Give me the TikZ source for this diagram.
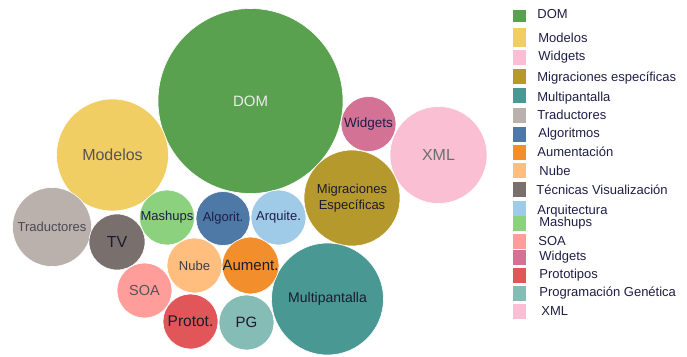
\documentclass[tikz,border=0pt]{standalone}
\usepackage{fontspec}
\setmainfont{Liberation Sans}
\usepackage{tikz}
\usetikzlibrary{positioning}

\definecolor{cdom}{HTML}{59A14F}
\definecolor{cmod}{HTML}{F1CE63}
\definecolor{cwpink}{HTML}{FABFD2}
\definecolor{cmig}{HTML}{B6992D}
\definecolor{cmulti}{HTML}{499894}
\definecolor{ctrad}{HTML}{BAB0AC}
\definecolor{calg}{HTML}{4E79A7}
\definecolor{caum}{HTML}{F28E2B}
\definecolor{cnube}{HTML}{FFBE7D}
\definecolor{ctv}{HTML}{79706E}
\definecolor{carq}{HTML}{A0CBE8}
\definecolor{cmash}{HTML}{8CD17D}
\definecolor{csoa}{HTML}{FF9D9A}
\definecolor{cwid}{HTML}{D37295}
\definecolor{cprot}{HTML}{E15759}
\definecolor{cpg}{HTML}{86BCB6}
\definecolor{cxml}{HTML}{FABFD2}
\definecolor{legtext}{HTML}{1E1E46}
\definecolor{darklab}{HTML}{1C1C2C}
\definecolor{greylab}{HTML}{555555}

\tikzset{
  bub/.style={circle, inner sep=0pt, draw=white, line width=0.6pt,
    text=darklab, font=\fontsize{13}{15}\selectfont},
  swatch/.style={rectangle, inner sep=0pt, minimum width=13pt, minimum height=15pt},
  legtxt/.style={anchor=west, inner sep=0pt, text=legtext, font=\fontsize{13}{15}\selectfont}
}

\begin{document}
\begin{tikzpicture}[x=1pt,y=-1pt]
\useasboundingbox (0,0) rectangle (687,356);

% bubbles
\node[bub, fill=cdom, minimum size=185pt, text=white!92!black, font=\fontsize{15}{17}\selectfont] (dom) at (250.5,101) {DOM};
\node[bub, fill=cmod, minimum size=112pt, text=greylab, font=\fontsize{16}{18}\selectfont] (modelos) at (112.5,155) {Modelos};
\node[bub, fill=cwid, minimum size=55pt, text=legtext, font=\fontsize{13.5}{15}\selectfont] (widgets) at (368.5,124) {Widgets};
\node[bub, fill=cxml, minimum size=97pt, text=greylab!85!white, font=\fontsize{16}{18}\selectfont] (xml) at (438.5,155) {XML};
\node[bub, fill=cmig, minimum size=96pt, align=center, font=\fontsize{13}{16}\selectfont] (migr) at (352,198) {Migraciones\\Específicas};
\node[bub, fill=cmulti, minimum size=112pt, font=\fontsize{14}{16}\selectfont] (multi) at (327.5,299) {Multipantalla};
\node[bub, fill=ctrad, minimum size=79pt, text=darklab!80!white] (trad) at (52,227) {Traductores};
\node[bub, fill=ctv, minimum size=56pt, font=\fontsize{16}{18}\selectfont] (tv) at (117,242) {TV};
\node[bub, fill=cmash, minimum size=55pt, text=legtext] (mash) at (167,217.5) {Mashups};
\node[bub, fill=calg, minimum size=54pt, text=legtext] (algo) at (223,218.5) {Algorit.};
\node[bub, fill=carq, minimum size=55pt, text=legtext] (arq) at (278.5,217.5) {Arquite.};
\node[bub, fill=cnube, minimum size=55pt, text=darklab!85!white] (nube) at (194.5,265.5) {Nube};
\node[bub, fill=caum, minimum size=55pt, font=\fontsize{15}{17}\selectfont] (aum) at (250.5,265.5) {Aument.};
\node[bub, fill=csoa, minimum size=55pt, text=greylab, font=\fontsize{14.5}{16}\selectfont] (soa) at (144.5,290.5) {SOA};
\node[bub, fill=cprot, minimum size=55pt, font=\fontsize{15.5}{17}\selectfont] (prot) at (190.5,321.5) {Protot.};
\node[bub, fill=cpg, minimum size=55pt, font=\fontsize{15}{17}\selectfont] (pg) at (246.5,322.5) {PG};

% legend
\node[swatch, fill=cdom, minimum height=12pt] (kdom) at (519.5,16) {};
\node[legtxt, right=11pt of kdom, yshift=2pt] (ldom) {DOM};
\node[swatch, fill=cmod, minimum height=19pt] (kmod) at (519.5,37.5) {};
\node[legtxt, right=12pt of kmod] (lmod) {Modelos};
\node[swatch, fill=cwpink] (kwp) at (519.5,57.5) {};
\node[legtxt, right=12pt of kwp] (lwp) {Widgets};
\node[swatch, fill=cmig] (kmig) at (519.5,76) {};
\node[legtxt, right=11pt of kmig, yshift=-2pt] (lmig) {Migraciones específicas};
\node[swatch, fill=cmulti] (kmulti) at (519.5,95) {};
\node[legtxt, right=11pt of kmulti, yshift=-3pt] (lmulti) {Multipantalla};
\node[swatch, fill=ctrad] (ktrad) at (519.5,115) {};
\node[legtxt, right=11pt of ktrad] (ltrad) {Traductores};
\node[swatch, fill=calg] (kalg) at (519.5,134) {};
\node[legtxt, right=12pt of kalg] (lalg) {Algoritmos};
\node[swatch, fill=caum] (kaum) at (519.5,152) {};
\node[legtxt, right=11pt of kaum] (laum) {Aumentación};
\node[swatch, fill=cnube] (knube) at (519.5,170.5) {};
\node[legtxt, right=13pt of knube] (lnube) {Nube};
\node[swatch, fill=ctv] (ktv) at (519.5,189.5) {};
\node[legtxt, right=10pt of ktv] (ltv) {Técnicas Visualización};
\node[swatch, fill=carq] (karq) at (519.5,208.5) {};
\node[legtxt, right=11pt of karq, yshift=-3pt] (larq) {Arquitectura};
\node[swatch, fill=cmash] (kmash) at (519.5,223.5) {};
\node[legtxt, right=13pt of kmash] (lmash) {Mashups};
\node[swatch, fill=csoa] (ksoa) at (519.5,241) {};
\node[legtxt, right=12pt of ksoa] (lsoa) {SOA};
\node[swatch, fill=cwid] (kwid) at (519.5,257.5) {};
\node[legtxt, right=13pt of kwid] (lwid) {Widgets};
\node[swatch, fill=cprot] (kprot) at (519.5,275) {};
\node[legtxt, right=13pt of kprot] (lprot) {Prototipos};
\node[swatch, fill=cpg] (kpg) at (519.5,293.5) {};
\node[legtxt, right=13pt of kpg] (lpg) {Programación Genética};
\node[swatch, fill=cxml] (kxml) at (519.5,311.5) {};
\node[legtxt, right=15pt of kxml] (lxml) {XML};
\end{tikzpicture}
\end{document}
